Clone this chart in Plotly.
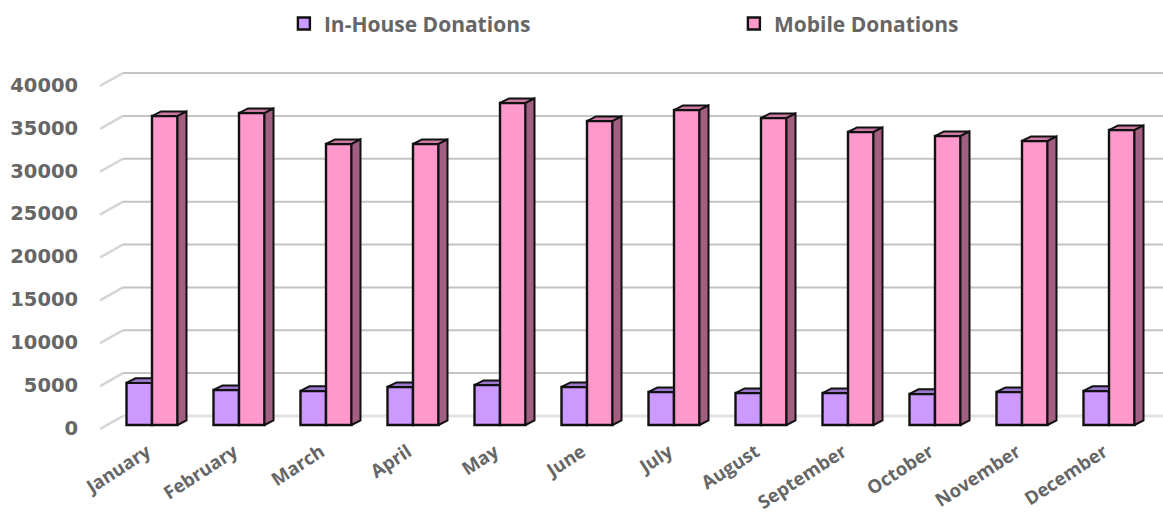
import plotly.graph_objects as go

months = ["January", "February", "March", "April", "May", "June", "July",
          "August", "September", "October", "November", "December"]
in_house = [4910, 4080, 3970, 4430, 4660, 4430, 3850, 3730, 3730, 3620, 3850, 3970]
mobile = [36030, 36380, 32770, 32770, 37550, 35450, 36730, 35800, 34170, 33700, 33120, 34400]
y_ticks = [0, 5000, 10000, 15000, 20000, 25000, 30000, 35000, 40000]
names = ["In-House Donations", "Mobile Donations"]

PX_X = 87.0
PX_Y = 8.575 / 1000
DX = 9 / PX_X
DY = 4.6 / PX_Y
BAR = 25.5 / PX_X
INK = "#111111"
TXT = "#666666"
FONT = "DejaVu Sans"

fig = go.Figure()
fig.add_bar(x=list(range(12)), y=in_house, name=names[0], width=BAR, offset=-BAR,
            marker=dict(color="#CC99FF", line=dict(color=INK, width=2.4)))
fig.add_bar(x=list(range(12)), y=mobile, name=names[1], width=BAR, offset=0,
            marker=dict(color="#FF99CC", line=dict(color=INK, width=2.4)))


def poly(xs, ys, color):
    fig.add_scatter(x=xs, y=ys, mode="lines", fill="toself", fillcolor=color,
                    line=dict(color=INK, width=2), showlegend=False, hoverinfo="skip")


for i in range(12):
    a, b = in_house[i], mobile[i]
    # top of the in-house bar, visible up to the face of the mobile bar
    poly([i - BAR, i - BAR + DX, i, i, i - BAR], [a, a + DY, a + DY, a, a], "#9C78CC")
    # top and side of the mobile bar
    poly([i, i + DX, i + BAR + DX, i + BAR, i], [b, b + DY, b + DY, b, b], "#CC7AA3")
    poly([i + BAR, i + BAR + DX, i + BAR + DX, i + BAR, i + BAR],
         [0, DY, b + DY, b, 0], "#A35F82")

x_left, x_right = (100 - 152) / PX_X, (1163 - 152) / PX_X
stub = 23 / PX_X
low, rise = -4 / PX_Y, 9 / PX_Y
shapes = []
for t in y_ticks:
    is_floor = t == 0
    col = "#E2E2E2" if is_floor else "#C4C4C4"
    wid = 3 if is_floor else 2
    shapes.append(dict(type="line", xref="x", yref="y", layer="below",
                       x0=x_left, y0=t + low, x1=x_left + stub, y1=t + rise,
                       line=dict(color="#D4D4D4", width=2.5)))
    shapes.append(dict(type="line", xref="x", yref="y", layer="below",
                       x0=x_left + stub, y0=t + rise, x1=x_right, y1=t + rise,
                       line=dict(color=col, width=wid)))

fig.update_layout(
    width=1163, height=515, margin=dict(l=100, r=0, t=60, b=83, autoexpand=False),
    paper_bgcolor="white", plot_bgcolor="white", barmode="overlay", shapes=shapes,
    font=dict(family=FONT, color=TXT),
    legend=dict(orientation="h", x=0.173, xanchor="left", y=1.097, yanchor="middle",
                entrywidth=405, entrywidthmode="pixels",
                font=dict(family="Open Sans", size=21, color=TXT, weight="bold")),
    xaxis=dict(range=[x_left, x_right], tickmode="array", tickvals=list(range(12)),
               ticktext=months, tickangle=-33, showgrid=False, zeroline=False,
               automargin=False, ticks="outside", ticklen=1, tickcolor="rgba(0,0,0,0)",
               ticklabelshift=-5,
               tickfont=dict(family="Open Sans", size=18.5, color=TXT, weight="bold")),
    yaxis=dict(range=[-7 / PX_Y, 365 / PX_Y], tickmode="array", tickvals=y_ticks,
               ticktext=[str(t) for t in y_ticks], showgrid=False, zeroline=False,
               automargin=False, ticks="outside", ticklen=17, tickcolor="rgba(0,0,0,0)",
               ticklabelshift=3,
               tickfont=dict(family=FONT, size=19.5, color=TXT, weight="bold")),
)
fig.write_html("out.html", config={"displayModeBar": False},
               post_script="document.body.style.margin='0';document.body.style.overflow='hidden';")
